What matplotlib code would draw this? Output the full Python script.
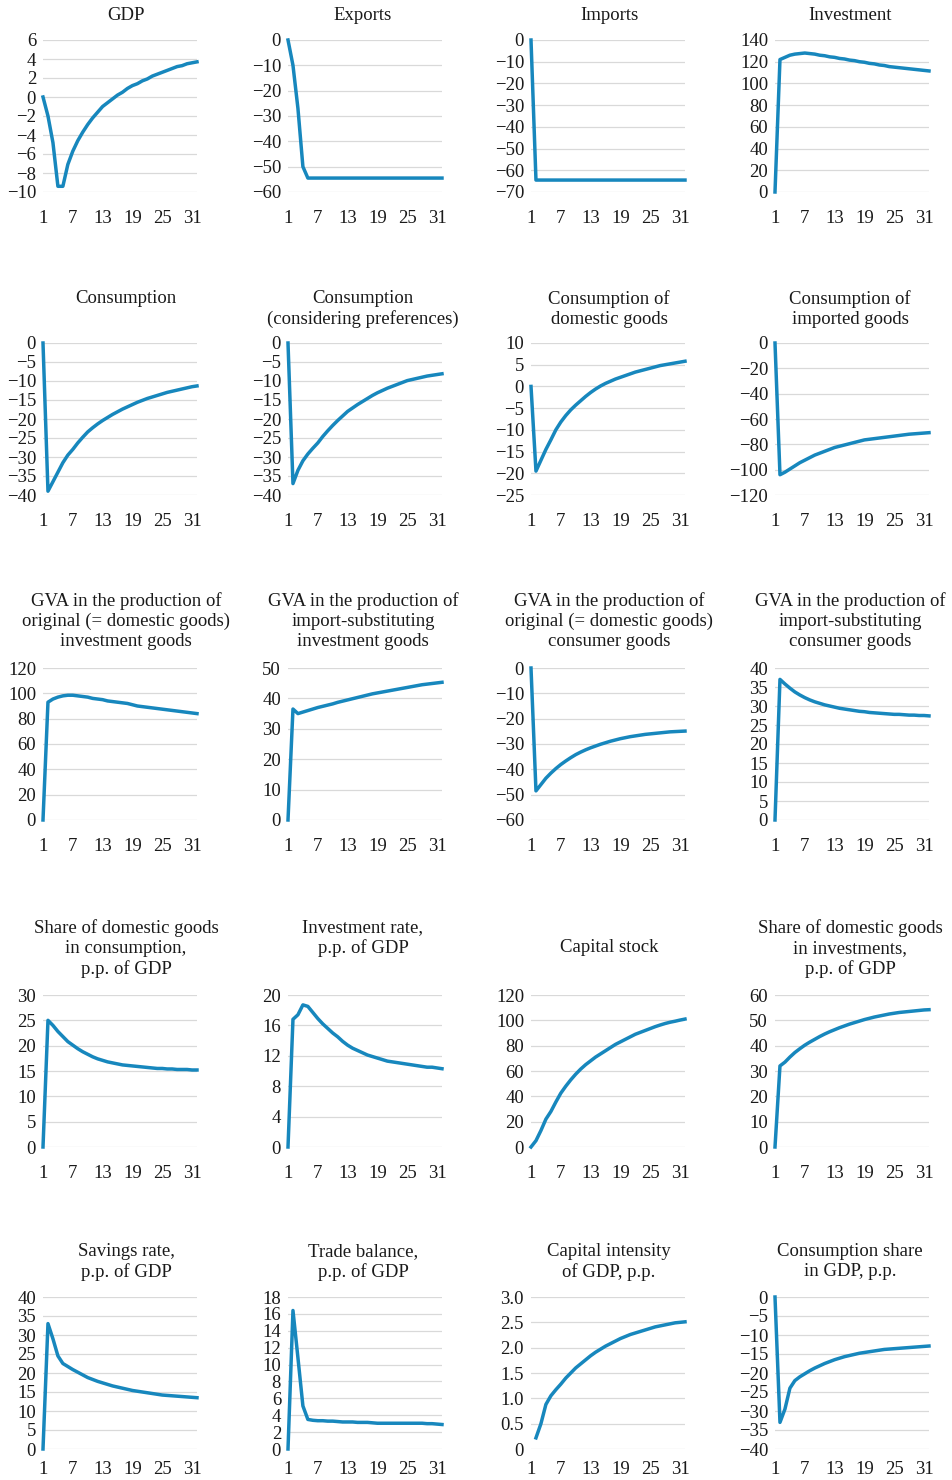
import numpy as np
import matplotlib
matplotlib.use("Agg")
import matplotlib.pyplot as plt
from matplotlib.ticker import FuncFormatter

plt.rcParams['font.family'] = ['Liberation Serif', 'DejaVu Serif']

# periods 1..32
periods = list(range(1, 33))

gdp = [0, -2.0, -4.8, -9.4, -9.4, -7.1, -5.7, -4.6, -3.7, -2.9, -2.2, -1.6, -1.0, -0.6, -0.2, 0.2,
       0.5, 0.9, 1.2, 1.4, 1.7, 1.9, 2.2, 2.4, 2.6, 2.8, 3.0, 3.2, 3.3, 3.5, 3.6, 3.7]
exports = [0, -10, -27, -50, -54.5, -54.5, -54.5, -54.5, -54.5, -54.5, -54.5, -54.5, -54.5, -54.5, -54.5, -54.5,
           -54.5, -54.5, -54.5, -54.5, -54.5, -54.5, -54.5, -54.5, -54.5, -54.5, -54.5, -54.5, -54.5, -54.5, -54.5, -54.5]
imports = [0, -64.5, -64.5, -64.5, -64.5, -64.5, -64.5, -64.5, -64.5, -64.5, -64.5, -64.5, -64.5, -64.5, -64.5, -64.5,
           -64.5, -64.5, -64.5, -64.5, -64.5, -64.5, -64.5, -64.5, -64.5, -64.5, -64.5, -64.5, -64.5, -64.5, -64.5, -64.5]
investment = [0, 122, 124, 126, 127, 127.5, 128, 127.5, 127, 126, 125.5, 124.5, 124, 123, 122.5, 121.5,
              121, 120, 119.5, 118.5, 118, 117, 116.5, 115.5, 115, 114.5, 114, 113.5, 113, 112.5, 112, 111.5]

consumption = [0, -39, -36.5, -34, -31.5, -29.5, -28, -26.3, -24.8, -23.4, -22.3, -21.3, -20.4, -19.6, -18.8, -18.1,
               -17.4, -16.8, -16.2, -15.6, -15.1, -14.6, -14.2, -13.8, -13.4, -13.0, -12.7, -12.4, -12.1, -11.8, -11.5, -11.3]
consumption_pref = [0, -37, -33.5, -31, -29.2, -27.7, -26.3, -24.6, -23.1, -21.7, -20.4, -19.2, -18, -17.1, -16.2, -15.4,
                    -14.6, -13.8, -13.1, -12.5, -11.9, -11.4, -10.9, -10.4, -9.9, -9.6, -9.3, -9.0, -8.7, -8.5, -8.3, -8.1]
cons_domestic = [0, -19.5, -17, -14.5, -12.3, -10, -8.2, -6.7, -5.4, -4.3, -3.3, -2.3, -1.4, -0.6, 0.1, 0.7,
                 1.2, 1.7, 2.1, 2.5, 2.9, 3.3, 3.6, 3.9, 4.2, 4.5, 4.8, 5.0, 5.2, 5.4, 5.6, 5.8]
cons_imported = [0, -104, -102, -99.5, -97, -94.5, -92.5, -90.5, -88.5, -87, -85.5, -84, -82.5, -81.5, -80.5, -79.5,
                 -78.5, -77.5, -76.5, -76, -75.5, -75, -74.5, -74, -73.5, -73, -72.5, -72, -71.7, -71.4, -71.1, -70.8]

gva_orig_inv = [0, 93, 95.5, 97, 98, 98.5, 98.5, 98, 97.5, 97, 96, 95.5, 95, 94, 93.5, 93,
                92.5, 92, 91, 90, 89.5, 89, 88.5, 88, 87.5, 87, 86.5, 86, 85.5, 85, 84.5, 84]
gva_imp_inv = [0, 36.5, 35, 35.5, 36, 36.5, 37, 37.4, 37.8, 38.2, 38.7, 39.1, 39.5, 39.9, 40.3, 40.7,
               41.1, 41.5, 41.8, 42.1, 42.4, 42.7, 43, 43.3, 43.6, 43.9, 44.2, 44.5, 44.7, 44.9, 45.1, 45.3]
gva_orig_cons = [0, -48.5, -46, -43.5, -41.5, -39.7, -38.1, -36.7, -35.4, -34.2, -33.2, -32.3, -31.5, -30.8, -30.1, -29.5,
                 -28.9, -28.4, -27.9, -27.5, -27.1, -26.8, -26.5, -26.2, -26, -25.8, -25.6, -25.4, -25.2, -25.1, -25, -24.9]
gva_imp_cons = [0, 37, 35.8, 34.7, 33.7, 32.9, 32.2, 31.6, 31.1, 30.7, 30.3, 30, 29.7, 29.4, 29.2, 29,
                28.8, 28.6, 28.5, 28.3, 28.2, 28.1, 28, 27.9, 27.8, 27.8, 27.7, 27.6, 27.6, 27.5, 27.5, 27.4]

share_dom_cons = [0, 25, 24, 22.8, 21.8, 20.8, 20.1, 19.4, 18.8, 18.3, 17.8, 17.4, 17.1, 16.8, 16.6, 16.4,
                  16.2, 16.1, 16, 15.9, 15.8, 15.7, 15.6, 15.5, 15.5, 15.4, 15.4, 15.3, 15.3, 15.3, 15.2, 15.2]
inv_rate = [0, 16.8, 17.4, 18.7, 18.5, 17.7, 16.9, 16.2, 15.6, 15, 14.5, 13.9, 13.4, 13.0, 12.7, 12.4,
            12.1, 11.9, 11.7, 11.5, 11.3, 11.2, 11.1, 11.0, 10.9, 10.8, 10.7, 10.6, 10.5, 10.5, 10.4, 10.3]
cap_stock = [0, 5, 13, 22, 28, 35.5, 42.5, 48, 53, 57.5, 61.5, 65, 68, 71, 73.5, 76,
             78.5, 81, 83, 85, 87, 89, 90.5, 92, 93.5, 95, 96.3, 97.5, 98.5, 99.3, 100.2, 101]
share_dom_inv = [0, 32, 33.5, 35.5, 37.3, 38.8, 40.2, 41.4, 42.5, 43.6, 44.6, 45.5, 46.3, 47.1, 47.8, 48.5,
                 49.1, 49.7, 50.3, 50.8, 51.3, 51.7, 52.1, 52.5, 52.8, 53.1, 53.3, 53.5, 53.7, 53.9, 54.1, 54.2]

savings_rate = [0, 33, 29, 24.5, 22.5, 21.7, 20.9, 20.2, 19.5, 18.8, 18.3, 17.8, 17.4, 17, 16.6, 16.3,
                16, 15.7, 15.4, 15.2, 15, 14.8, 14.6, 14.4, 14.2, 14.1, 14, 13.9, 13.8, 13.7, 13.6, 13.5]
trade_balance = [0, 16.4, 10.8, 5.1, 3.5, 3.4, 3.35, 3.35, 3.3, 3.3, 3.25, 3.2, 3.2, 3.2, 3.15, 3.15,
                 3.15, 3.1, 3.05, 3.05, 3.05, 3.05, 3.05, 3.05, 3.05, 3.05, 3.05, 3.05, 3.0, 3.0, 2.95, 2.9]
cap_intensity = [np.nan, 0.22, 0.5, 0.88, 1.05, 1.17, 1.28, 1.4, 1.5, 1.6, 1.68, 1.76, 1.84, 1.91, 1.97, 2.03,
                 2.08, 2.13, 2.18, 2.22, 2.26, 2.29, 2.32, 2.35, 2.38, 2.41, 2.43, 2.45, 2.47, 2.49, 2.5, 2.51]
cons_share = [0, -33, -29.5, -24, -22, -21, -20.2, -19.4, -18.7, -18.1, -17.5, -17, -16.5, -16.1, -15.7, -15.4,
              -15.1, -14.8, -14.6, -14.4, -14.2, -14, -13.8, -13.7, -13.6, -13.5, -13.4, -13.3, -13.2, -13.1, -13, -12.9]

titles = [
    "GDP", "Exports", "Imports", "Investment",
    "Consumption", "Consumption\n(considering preferences)", "Consumption of\ndomestic goods", "Consumption of\nimported goods",
    "GVA in the production of\noriginal (= domestic goods)\ninvestment goods",
    "GVA in the production of\nimport-substituting\ninvestment goods",
    "GVA in the production of\noriginal (= domestic goods)\nconsumer goods",
    "GVA in the production of\nimport-substituting\nconsumer goods",
    "Share of domestic goods\nin consumption,\np.p. of GDP", "Investment rate,\np.p. of GDP", "Capital stock",
    "Share of domestic goods\nin investments,\np.p. of GDP",
    "Savings rate,\np.p. of GDP", "Trade balance,\np.p. of GDP", "Capital intensity\nof GDP, p.p.", "Consumption share\nin GDP, p.p.",
]
series = [gdp, exports, imports, investment,
          consumption, consumption_pref, cons_domestic, cons_imported,
          gva_orig_inv, gva_imp_inv, gva_orig_cons, gva_imp_cons,
          share_dom_cons, inv_rate, cap_stock, share_dom_inv,
          savings_rate, trade_balance, cap_intensity, cons_share]
# (ymin, ymax, step)
yaxes = [(-10, 6, 2), (-60, 0, 10), (-70, 0, 10), (0, 140, 20),
         (-40, 0, 5), (-40, 0, 5), (-25, 10, 5), (-120, 0, 20),
         (0, 120, 20), (0, 50, 10), (-60, 0, 10), (0, 40, 5),
         (0, 30, 5), (0, 20, 4), (0, 120, 20), (0, 60, 10),
         (0, 40, 5), (0, 18, 2), (0, 3.0, 0.5), (-40, 0, 5)]
xticks = [1, 7, 13, 19, 25, 31]

W, H = 953, 1480
fig = plt.figure(figsize=(W / 100, H / 100), dpi=100)

col_left = [43, 288, 531, 775]
col_title = [126, 363, 609, 850]
row_top = [40, 343, 668, 995, 1297]
row_title = [14, 297, 599, 926, 1250]
row_xpad = [13, 13, 13, 13, 8.5]
ax_w, ax_h = 154, 152
color = '#1787bd'

for i, (title, ys, (lo, hi, st)) in enumerate(zip(titles, series, yaxes)):
    r, c = divmod(i, 4)
    ax = fig.add_axes([col_left[c] / W, 1 - (row_top[r] + ax_h) / H, ax_w / W, ax_h / H])
    ax.plot(periods, ys, color=color, lw=2.5, solid_joinstyle='round', clip_on=False, zorder=3)
    ax.set_xlim(1, 32)
    ax.set_ylim(lo, hi)
    ax.set_yticks(np.arange(lo, hi + st / 2, st))
    ax.set_xticks(xticks)
    if st < 1:
        ax.yaxis.set_major_formatter(FuncFormatter(lambda v, p: "0" if abs(v) < 1e-9 else f"{v:.1f}"))
    else:
        ax.yaxis.set_major_formatter(FuncFormatter(lambda v, p: f"{v:.0f}".replace("-", "\u2212")))
    ax.grid(axis='y', color='#d9d9d9', lw=0.9)
    ax.set_axisbelow(True)
    for s in ax.spines.values():
        s.set_visible(False)
    ax.tick_params(axis='both', length=0, labelsize=13.5, labelcolor='#1a1a1a')
    ax.tick_params(axis='x', pad=row_xpad[r])
    ax.tick_params(axis='y', pad=5)
    ty = row_title[r]
    if title == "Capital stock":
        ty = 946
    fig.text(col_title[c] / W, 1 - (ty - 7) / H, title, ha='center', va='top',
             fontsize=13.5, linespacing=1.22, color='#1a1a1a', multialignment='center')

fig.savefig("out.png", dpi=100, facecolor='white')
